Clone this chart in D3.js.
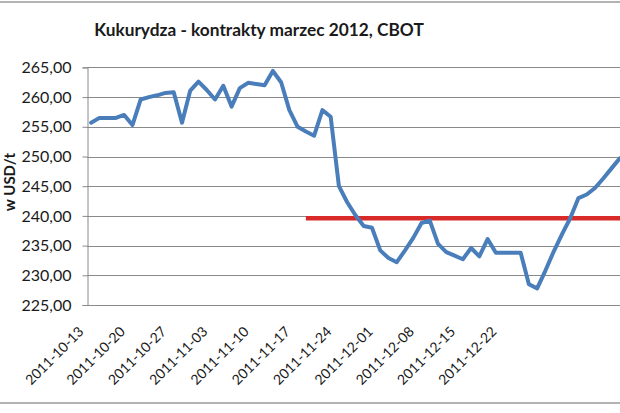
<!DOCTYPE html>
<html>
<head>
<meta charset="utf-8">
<script src="https://cdn.jsdelivr.net/npm/d3@7"></script>
<style>
  html, body { margin: 0; padding: 0; background: #fff; }
  svg { display: block; }
  text { font-family: Lato, "Open Sans", sans-serif; fill: #1a1a1a; }
</style>
</head>
<body>
<svg id="chart" width="620" height="413"></svg>
<script>
// ---- data ----
const titleText = "Kukurydza - kontrakty marzec 2012, CBOT";
const yAxisTitle = "w USD/t";

const dates = [
  "2011-10-13","2011-10-14","2011-10-17","2011-10-18","2011-10-19","2011-10-20","2011-10-21",
  "2011-10-24","2011-10-25","2011-10-26","2011-10-27","2011-10-28",
  "2011-10-31","2011-11-01","2011-11-02","2011-11-03","2011-11-04",
  "2011-11-07","2011-11-08","2011-11-09","2011-11-10","2011-11-11",
  "2011-11-14","2011-11-15","2011-11-16","2011-11-17","2011-11-18",
  "2011-11-21","2011-11-22","2011-11-23","2011-11-24","2011-11-25",
  "2011-11-28","2011-11-29","2011-11-30","2011-12-01","2011-12-02",
  "2011-12-05","2011-12-06","2011-12-07","2011-12-08","2011-12-09",
  "2011-12-12","2011-12-13","2011-12-14","2011-12-15","2011-12-16",
  "2011-12-19","2011-12-20","2011-12-21","2011-12-22","2011-12-23",
  "2011-12-26","2011-12-27","2011-12-28","2011-12-29","2011-12-30",
  "2012-01-02","2012-01-03","2012-01-04","2012-01-05","2012-01-06",
  "2012-01-09","2012-01-10","2012-01-11"
];

const prices = [
  255.7, 256.5, 256.5, 256.5, 257.0, 255.3, 259.6,
  260.0, 260.3, 260.7, 260.8, 255.7,
  261.1, 262.6, 261.2, 259.6, 261.9,
  258.4, 261.5, 262.4, 262.2, 262.0,
  264.4, 262.5, 257.8, 255.0, 254.2,
  253.5, 257.8, 256.7, 245.0, 242.3,
  240.1, 238.3, 238.0, 234.2, 232.9,
  232.2, 234.2, 236.3, 238.8, 239.2,
  235.3, 233.9, 233.3, 232.7, 234.6,
  233.2, 236.1, 233.8, 233.8, 233.8,
  233.8, 228.5, 227.8, 230.8, 234.0,
  236.9, 239.6, 243.0, 243.6, 244.7,
  246.3, 248.0, 249.7
];

// red reference level
const refLevel = 239.6;
const refStart = "2011-11-18";
const refEnd = "2012-01-11";

const xTickLabels = ["2011-10-13","2011-10-20","2011-10-27","2011-11-03","2011-11-10",
  "2011-11-17","2011-11-24","2011-12-01","2011-12-08","2011-12-15","2011-12-22"];
const yTicks = [225, 230, 235, 240, 245, 250, 255, 260, 265];

// ---- layout ----
const svg = d3.select("#chart");
const plot = { left: 87, top: 67.4, bottom: 305, step: 8.26 };
const plotRight = plot.left + dates.length * plot.step;

const x = d3.scalePoint().domain(dates).range([plot.left, plotRight]).padding(0.5);
const y = d3.scaleLinear().domain([225, 265]).range([plot.bottom, plot.top]);
const fmt = v => d3.format(".2f")(v).replace(".", ",");

// chart frame (cropped)
svg.append("line").attr("x1", 0).attr("x2", 620).attr("y1", 2).attr("y2", 2)
  .attr("stroke", "#9a9a9a").attr("stroke-width", 1.5);
svg.append("line").attr("x1", 0).attr("x2", 620).attr("y1", 403).attr("y2", 403)
  .attr("stroke", "#9a9a9a").attr("stroke-width", 1.5);

// gridlines
svg.append("g").selectAll("line").data(yTicks.filter(t => t > 225)).join("line")
  .attr("x1", plot.left).attr("x2", plotRight)
  .attr("y1", d => Math.round(y(d)) + 0.5).attr("y2", d => Math.round(y(d)) + 0.5)
  .attr("stroke", "#8a8a8a").attr("stroke-width", 1);

// y axis
const yAxis = d3.axisLeft(y).tickValues(yTicks).tickFormat(fmt).tickSize(5).tickPadding(11);
const gy = svg.append("g").attr("transform", `translate(${plot.left + 0.5},0)`).call(yAxis);
gy.select(".domain").attr("stroke", "#8a8a8a");
gy.selectAll(".tick line").attr("stroke", "#8a8a8a");
gy.selectAll(".tick text").attr("font-size", 16).attr("font-family", "Lato").attr("fill", "#222");

// x axis line
svg.append("line").attr("x1", plot.left).attr("x2", plotRight)
  .attr("y1", plot.bottom + 0.5).attr("y2", plot.bottom + 0.5)
  .attr("stroke", "#8a8a8a").attr("stroke-width", 1);

// x tick labels
svg.append("g").selectAll("text").data(xTickLabels).join("text")
  .attr("transform", d => `translate(${x(d) - 10},${plot.bottom + 24}) rotate(-45)`)
  .attr("text-anchor", "end").attr("dy", "0.35em")
  .attr("font-size", 14).attr("fill", "#222")
  .text(d => d);

// red reference line
svg.append("line")
  .attr("x1", x(refStart)).attr("x2", x(refEnd) + 20)
  .attr("y1", y(refLevel)).attr("y2", y(refLevel))
  .attr("stroke", "#d92a2a").attr("stroke-width", 4.5);

// blue price line
const line = d3.line().x((d, i) => x(dates[i])).y(d => y(d));
svg.append("path").datum(prices)
  .attr("d", line).attr("fill", "none")
  .attr("stroke", "#4a7ebb").attr("stroke-width", 4)
  .attr("stroke-linejoin", "round").attr("stroke-linecap", "round");

// title
svg.append("text").attr("x", 259).attr("y", 36).attr("text-anchor", "middle")
  .attr("font-size", 17.3).attr("font-weight", "bold").text(titleText);

// y axis title
svg.append("text")
  .attr("transform", `translate(15,182) rotate(-90)`)
  .attr("text-anchor", "middle").attr("font-size", 15).attr("font-weight", "bold")
  .text(yAxisTitle);
</script>
</body>
</html>
